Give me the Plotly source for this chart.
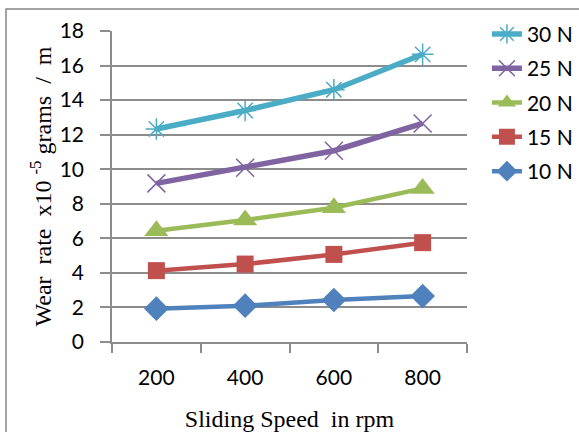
import plotly.graph_objects as go

speeds = ["200", "400", "600", "800"]
load_10 = [1.93, 2.10, 2.43, 2.66]
load_15 = [4.13, 4.51, 5.07, 5.75]
load_20 = [6.44, 7.06, 7.77, 8.89]
load_25 = [9.18, 10.09, 11.07, 12.65]
load_30 = [12.33, 13.40, 14.60, 16.65]

series = [
    ("10 N", load_10, "#4F81BD", "diamond", 19, 0, 5, 4.5),
    ("15 N", load_15, "#C0504D", "square", 17, 0, 4, 4.5),
    ("20 N", load_20, "#9BBB59", "triangle-up", 21, 0, 3, 4.5),
    ("25 N", load_25, "#8064A2", "x-thin-open", 18, 1.5, 2, 5.5),
    ("30 N", load_30, "#4BACC6", "asterisk-open", 18, 1.5, 1, 5.5),
]

fig = go.Figure()
for name, vals, color, sym, size, lw, rank, width in series:
    marker = dict(symbol=sym, size=size, color=color)
    if lw:
        marker["line"] = dict(color=color, width=lw)
    fig.add_trace(go.Scatter(
        x=speeds, y=vals, name=name, mode="lines+markers",
        line=dict(color=color, width=width), marker=marker,
        legendgroup=name, legendrank=rank,
    ))

grid = "#8C8C8C"
fig.update_layout(
    width=579, height=432,
    margin=dict(l=112, r=112, t=31, b=90),
    paper_bgcolor="white", plot_bgcolor="white",
    font=dict(family="Lato, Liberation Sans, sans-serif", size=21, color="black"),
    showlegend=True,
    legend=dict(xref="container", yref="container", x=0.841, y=0.968,
                xanchor="left", yanchor="top",
                traceorder="grouped", tracegroupgap=4,
                font=dict(size=21), bgcolor="rgba(0,0,0,0)"),
    xaxis=dict(
        type="category", tickson="boundaries", ticks="outside", ticklen=9,
        tickcolor=grid, tickwidth=1.5, showline=True, linecolor=grid, linewidth=1.5,
        showgrid=False, ticklabelstandoff=16, range=[-0.5, 3.5], automargin=False,
        title=dict(text="Sliding Speed  in rpm", standoff=22,
                   font=dict(family="Liberation Serif, serif", size=24)),
    ),
    yaxis=dict(
        range=[0, 18], dtick=2, ticks="outside", ticklen=10, tickcolor=grid,
        tickwidth=1.5, showline=True, linecolor=grid, linewidth=1.5,
        showgrid=True, gridcolor=grid, gridwidth=1.5, zeroline=False,
        ticklabelstandoff=12, automargin=False,
        title=dict(text="Wear  rate  x10 <sup>-5</sup> grams  /  m", standoff=1,
                   font=dict(family="Liberation Serif, serif", size=24)),
    ),
    shapes=[dict(type="rect", xref="paper", yref="paper",
                 x0=-0.2986, x1=1.35, y0=-0.32, y1=1.0707,
                 line=dict(color="#868686", width=1.5), layer="below")],
)

fig.write_html("out.html", config={"displayModeBar": False},
               post_script="document.body.style.margin='0';")
